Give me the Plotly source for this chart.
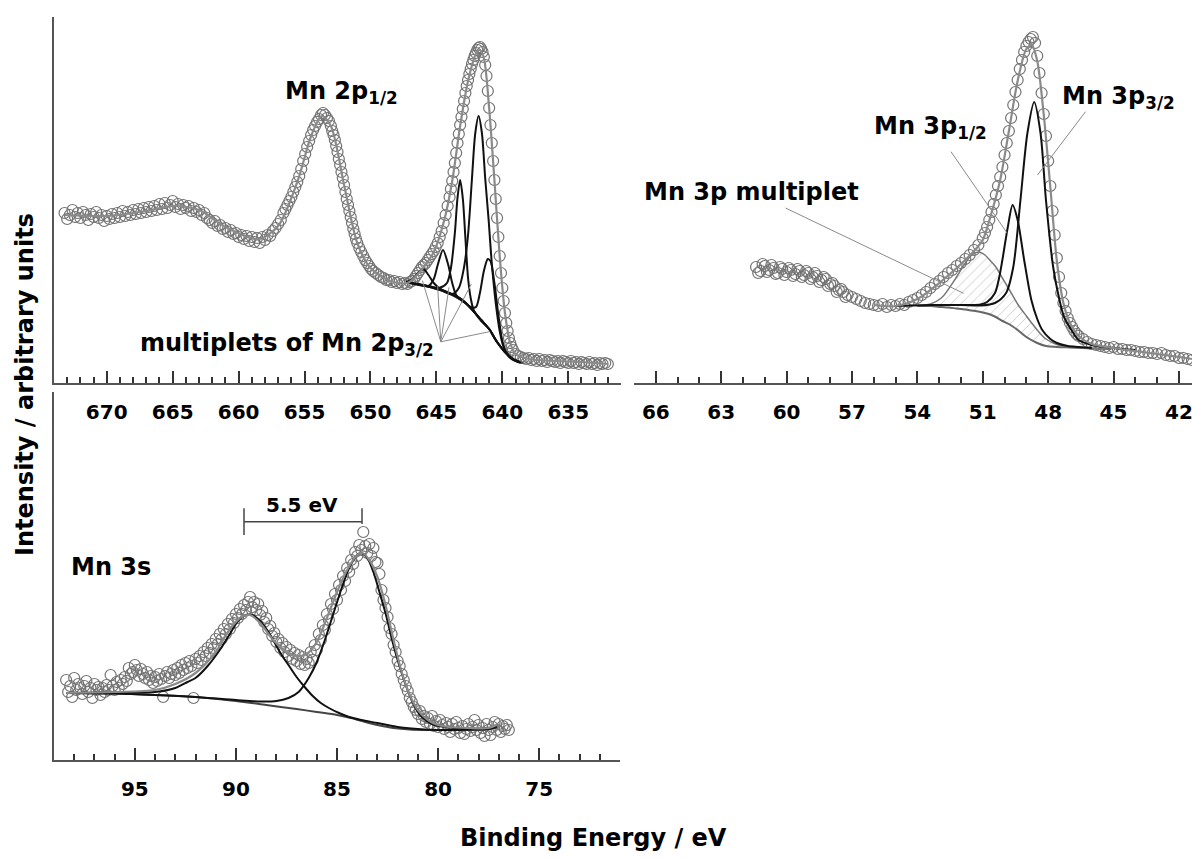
import plotly.graph_objects as go

W, H = 1192, 859
FONT = "DejaVu Sans, Liberation Sans, Arial, sans-serif"

# ---------------- Mn 2p (top-left): (binding energy, intensity) ----------------
mn2p_data = [
    (673.2, 170), (673.0, 164), (672.8, 168), (672.6, 173), (672.4, 166), (672.2, 170), (672.0, 165), (671.8, 171),
    (671.6, 168), (671.4, 163), (671.2, 169), (671.0, 166), (670.8, 171), (670.6, 165), (670.4, 168), (670.2, 162),
    (670.0, 167), (669.8, 164), (669.6, 169), (669.4, 165), (669.2, 170), (669.0, 166), (668.8, 172), (668.6, 167),
    (668.4, 171), (668.2, 168), (668.0, 173), (667.8, 169), (667.6, 174), (667.4, 170), (667.2, 175), (667.0, 171),
    (666.8, 176), (666.6, 172), (666.4, 177), (666.2, 173), (666.0, 179), (665.8, 174), (665.6, 180), (665.4, 175),
    (665.2, 178), (665.0, 182), (664.8, 176), (664.6, 179), (664.4, 174), (664.2, 178), (664.0, 175), (663.8, 177),
    (663.6, 172), (663.4, 175), (663.2, 171), (663.0, 173), (662.8, 168), (662.6, 170), (662.4, 165), (662.2, 163),
    (662.0, 160), (661.8, 162), (661.6, 157), (661.4, 158), (661.2, 154), (661.0, 155), (660.8, 151), (660.6, 153),
    (660.4, 149), (660.2, 150), (660.0, 146), (659.8, 148), (659.6, 144), (659.4, 147), (659.2, 142), (659.0, 146),
    (658.8, 141), (658.6, 145), (658.4, 140), (658.2, 146), (658.0, 143), (657.8, 148), (657.6, 147), (657.4, 152),
    (657.2, 155), (657.0, 159), (656.8, 163), (656.6, 170), (656.45, 174), (656.3, 178), (656.15, 182), (656.0, 186),
    (655.85, 191), (655.7, 196), (655.55, 201), (655.4, 207), (655.25, 214), (655.1, 222), (654.95, 229),
    (654.8, 236), (654.65, 242), (654.5, 248), (654.35, 253), (654.2, 257), (654.05, 261), (653.9, 264),
    (653.75, 268), (653.6, 270), (653.45, 268), (653.3, 265), (653.15, 262), (653.0, 257), (652.9, 252),
    (652.8, 248), (652.7, 243), (652.6, 237), (652.5, 231), (652.4, 224), (652.3, 218), (652.2, 211), (652.1, 205),
    (652.0, 198), (651.9, 191), (651.8, 184), (651.7, 178), (651.6, 172), (651.5, 166), (651.4, 160), (651.3, 154),
    (651.2, 149), (651.1, 144), (651.0, 140), (650.85, 135), (650.7, 131), (650.55, 127), (650.4, 123),
    (650.25, 120), (650.1, 117), (649.95, 114), (649.8, 112), (649.6, 110), (649.4, 108), (649.2, 106), (649.0, 105),
    (648.8, 103), (648.6, 103), (648.4, 101), (648.2, 102), (648.0, 100), (647.8, 101), (647.6, 99), (647.4, 100),
    (647.2, 99), (647.0, 101), (646.85, 102), (646.7, 104), (646.55, 107), (646.4, 110), (646.25, 113), (646.1, 116),
    (645.95, 118), (645.8, 120), (645.65, 123), (645.5, 126), (645.35, 129), (645.2, 132), (645.05, 136),
    (644.9, 140), (644.75, 146), (644.6, 152), (644.45, 160), (644.3, 168), (644.15, 177), (644.0, 186),
    (643.9, 194), (643.8, 202), (643.7, 211), (643.6, 220), (643.5, 230), (643.4, 240), (643.3, 249), (643.2, 258),
    (643.1, 266), (643.0, 274), (642.9, 282), (642.8, 290), (642.7, 297), (642.6, 303), (642.5, 309), (642.4, 314),
    (642.3, 319), (642.2, 323), (642.1, 327), (642.0, 330), (641.9, 333), (641.8, 335), (641.7, 336), (641.6, 334),
    (641.5, 331), (641.4, 326), (641.3, 318), (641.2, 307), (641.1, 292), (641.0, 275), (640.9, 258), (640.8, 240),
    (640.7, 222), (640.6, 203), (640.5, 184), (640.4, 165), (640.3, 146), (640.2, 127), (640.1, 110), (640.0, 95),
    (639.9, 82), (639.8, 70), (639.7, 60), (639.6, 52), (639.5, 45), (639.4, 40), (639.3, 36), (639.2, 33),
    (639.0, 29), (638.8, 27), (638.6, 26), (638.4, 25), (638.2, 24), (638.0, 25), (637.8, 23), (637.6, 24),
    (637.4, 22), (637.2, 24), (637.0, 22), (636.8, 23), (636.6, 21), (636.4, 23), (636.2, 22), (636.0, 21),
    (635.8, 22), (635.6, 20), (635.4, 22), (635.2, 21), (635.0, 20), (634.8, 22), (634.6, 20), (634.4, 21),
    (634.2, 19), (634.0, 21), (633.8, 20), (633.6, 19), (633.4, 21), (633.2, 19), (633.0, 20), (632.8, 18),
    (632.6, 20), (632.4, 19), (632.2, 20), (632.0, 19)]

mn2p_env_ev = [673.2, 670.0, 667.0, 665.0, 663.0, 661.0, 658.5, 657.0, 655.5, 654.5, 653.7, 653.0, 652.0,
               651.0, 650.0, 648.5, 647.2, 646.2, 645.2, 644.4, 643.8, 643.2, 642.6, 642.0, 641.7, 641.4,
               641.0, 640.6, 640.2, 639.8, 639.4, 639.0, 638.0, 636.0, 634.0, 632.0]
mn2p_env = [168, 167, 172, 177, 173, 156, 144, 157, 203, 247, 267, 257, 198,
            140, 115, 102, 100, 112, 131, 163, 202, 257, 302, 329, 333, 325,
            275, 203, 127, 70, 40, 29, 24, 22, 21, 19]

mn2p_bg_ev = [647.3, 646.5, 645.5, 644.5, 643.5, 642.8, 642.2, 641.6, 641.0, 640.4, 639.8, 639.2, 638.7, 638.4]
mn2p_bg = [101, 99, 96, 92, 86, 80, 72, 63, 54, 41, 31, 24, 21, 20]

mn2p_p1_ev = [646.5, 645.5, 644.5, 643.8, 643.3, 642.9, 642.6, 642.3, 642.05, 641.8, 641.55, 641.3, 641.05,
              640.8, 640.5, 640.2, 639.9, 639.5, 639.0, 638.6]
mn2p_p1 = [99, 96, 92, 89, 95, 116, 148, 205, 250, 267, 250, 205, 165,
           120, 80, 52, 36, 27, 22, 20]

mn2p_p2_ev = [646.5, 645.5, 644.8, 644.2, 643.9, 643.6, 643.4, 643.2, 643.0, 642.8, 642.6, 642.4, 642.2,
              642.0, 641.6, 641.0, 640.4, 639.8, 639.2, 638.7]
mn2p_p2 = [99, 96.5, 95, 100, 115, 150, 185, 203, 185, 145, 105, 85, 74,
           69, 62, 54, 41, 31, 24, 21]

mn2p_p3_ev = [647.0, 646.3, 645.6, 645.2, 644.9, 644.5, 644.1, 643.8, 643.5, 643.2, 642.8, 642.2, 641.6,
              641.0, 640.4, 639.8, 639.2, 638.7]
mn2p_p3 = [100, 98, 97, 104, 118, 133, 118, 100, 88, 84, 80, 72, 63,
           54, 41, 31, 24, 21]

mn2p_p4_ev = [647.3, 646.8, 646.4, 646.0, 645.6, 645.2, 644.8, 644.3, 643.6, 642.8, 642.2, 641.6, 641.0,
              640.4, 639.8, 639.2, 638.7]
mn2p_p4 = [101, 104, 110, 114, 108, 100, 95, 91, 87, 80, 72, 63, 54,
           41, 31, 24, 21]

mn2p_p5_ev = [647.3, 646.0, 645.0, 644.0, 643.0, 642.4, 642.0, 641.7, 641.4, 641.1, 640.9, 640.6, 640.3,
              640.0, 639.7, 639.3, 638.8]
mn2p_p5 = [101, 98, 95, 90, 83, 76, 76, 90, 112, 124, 122, 100, 68,
           42, 30, 24, 21]

# ---------------- Mn 3p (top-right) ----------------
mn3p_data = [
    (61.4, 116), (61.3, 110), (61.2, 112), (61.1, 119), (61.0, 117), (60.9, 111), (60.8, 113), (60.7, 118),
    (60.6, 115), (60.5, 109), (60.4, 110), (60.3, 116), (60.2, 114), (60.1, 108), (60.0, 111), (59.9, 115),
    (59.8, 113), (59.7, 107), (59.6, 109), (59.5, 114), (59.4, 112), (59.3, 106), (59.2, 108), (59.1, 112),
    (59.0, 110), (58.9, 104), (58.8, 106), (58.7, 110), (58.6, 107), (58.5, 101), (58.4, 103), (58.3, 106),
    (58.2, 104), (58.1, 97), (58.0, 99), (57.9, 100), (57.8, 97), (57.7, 91), (57.6, 93), (57.5, 94),
    (57.4, 91), (57.3, 86), (57.2, 88), (57.0, 86), (56.8, 84), (56.6, 82), (56.4, 80), (56.2, 79),
    (56.0, 78), (55.8, 77), (55.6, 79), (55.4, 76), (55.2, 78), (55.0, 77), (54.8, 79), (54.6, 78),
    (54.4, 81), (54.2, 83), (54.0, 85), (53.8, 88), (53.6, 91), (53.4, 95), (53.2, 99), (53.0, 102),
    (52.8, 106), (52.6, 110), (52.4, 113), (52.2, 117), (52.0, 120), (51.8, 124), (51.6, 128), (51.4, 133),
    (51.2, 138), (51.0, 145), (50.9, 150), (50.8, 156), (50.7, 163), (50.6, 171), (50.5, 179), (50.4, 188),
    (50.3, 197), (50.2, 206), (50.1, 216), (50.0, 228), (49.9, 240), (49.8, 252), (49.7, 265), (49.6, 278),
    (49.5, 291), (49.4, 303), (49.3, 314), (49.2, 323), (49.1, 331), (49.0, 337), (48.9, 341), (48.8, 344),
    (48.7, 346), (48.6, 340), (48.5, 327), (48.4, 310), (48.3, 290), (48.2, 269), (48.1, 247), (48.0, 222),
    (47.9, 197), (47.8, 172), (47.7, 148), (47.6, 125), (47.5, 106), (47.4, 90), (47.3, 80), (47.2, 72),
    (47.1, 65), (47.0, 60), (46.9, 56), (46.8, 52), (46.7, 49), (46.6, 47), (46.4, 44), (46.2, 41),
    (46.0, 39), (45.8, 38), (45.6, 37), (45.4, 36), (45.2, 35), (45.0, 36), (44.8, 34), (44.6, 34),
    (44.4, 33), (44.2, 33), (44.0, 32), (43.8, 31), (43.6, 31), (43.4, 30), (43.2, 30), (43.0, 29),
    (42.8, 30), (42.6, 28), (42.4, 27), (42.2, 27), (42.0, 25), (41.8, 25), (41.6, 24), (41.4, 23)]

mn3p_env_ev = [56.0, 55.0, 54.0, 53.0, 52.0, 51.4, 51.0, 50.6, 50.2, 49.8, 49.4, 49.0, 48.75, 48.5, 48.2,
               47.9, 47.6, 47.3, 47.0, 46.6, 46.0, 45.0, 44.0, 43.0, 42.0, 41.4]
mn3p_env = [78, 77, 84, 100, 119, 132, 143, 170, 203, 252, 302, 334, 338, 322, 268,
            196, 122, 80, 60, 47, 39, 35, 32, 29, 26, 24]

mn3p_mp_ev = [54.0, 53.4, 52.9, 52.6, 52.2, 51.8, 51.5, 51.2, 50.9, 50.6, 50.4, 50.1, 49.8, 49.4, 49.0,
              48.5, 48.1, 47.6, 47.0, 46.4, 45.8, 45.1]
mn3p_bg = [77, 77, 76, 75.5, 74.5, 73.5, 72.5, 71.5, 70, 68, 66, 62, 59, 53, 46,
           40, 37, 36, 35.5, 35, 34.5, 34]
mn3p_mult = [77.5, 79, 85, 93, 106, 120, 128, 131, 128, 121, 116, 105, 94, 79, 67,
             53, 44, 38.5, 36, 35.2, 34.6, 34]

mn3p_p12_ev = [55.0, 53.4, 52.4, 51.6, 51.1, 50.8, 50.44, 50.25, 50.1, 49.85, 49.63, 49.4, 49.1, 48.77,
               48.5, 48.27, 47.9, 47.6, 47.1, 46.6, 46.0]
mn3p_p12 = [77, 78, 78, 78, 78.5, 81, 90, 105, 123, 156, 178, 163, 123, 83,
            64, 53, 44, 40, 37, 36, 35]

mn3p_p32_ev = [53.4, 52.0, 51.1, 50.44, 49.93, 49.6, 49.27, 48.95, 48.64, 48.35, 48.1, 47.77, 47.5,
               47.27, 46.9, 46.6, 46.0, 45.4, 44.6, 44.0]
mn3p_p32 = [78, 78, 77.5, 80, 90, 116, 183, 250, 281, 250, 183, 116, 85,
            66, 52, 43, 38, 36, 34, 33]

# ---------------- Mn 3s (bottom-left) ----------------
mn3s_data = [
    (98.4, 80), (98.3, 68), (98.2, 74), (98.1, 63), (98.0, 82), (97.9, 70), (97.8, 76), (97.7, 72), (97.6, 66),
    (97.5, 74), (97.4, 79), (97.3, 68), (97.2, 72), (97.1, 62), (97.0, 76), (96.9, 70), (96.8, 73), (96.7, 65),
    (96.6, 72), (96.5, 68), (96.4, 75), (96.3, 70), (96.2, 85), (96.1, 74), (96.0, 70), (95.9, 78), (95.8, 72),
    (95.7, 80), (95.6, 76), (95.5, 83), (95.4, 79), (95.3, 92), (95.2, 86), (95.1, 88), (95.0, 95), (94.9, 90),
    (94.8, 84), (94.7, 91), (94.6, 86), (94.5, 82), (94.4, 88), (94.3, 80), (94.2, 84), (94.1, 77), (94.0, 83),
    (93.9, 79), (93.8, 86), (93.7, 81), (93.6, 63), (93.5, 84), (93.4, 88), (93.3, 82), (93.2, 86), (93.1, 90),
    (93.0, 85), (92.9, 92), (92.8, 87), (92.7, 95), (92.6, 90), (92.5, 97), (92.4, 92), (92.3, 99), (92.2, 94),
    (92.1, 62), (92.0, 101), (91.9, 97), (91.8, 104), (91.7, 100), (91.6, 108), (91.5, 104), (91.4, 112),
    (91.3, 107), (91.2, 116), (91.1, 112), (91.0, 121), (90.9, 116), (90.8, 126), (90.7, 121), (90.6, 131),
    (90.5, 126), (90.4, 136), (90.3, 131), (90.2, 141), (90.1, 137), (90.0, 146), (89.9, 142), (89.8, 151),
    (89.7, 146), (89.6, 155), (89.5, 150), (89.4, 158), (89.3, 163), (89.2, 153), (89.1, 158), (89.0, 150),
    (88.9, 156), (88.8, 145), (88.7, 149), (88.6, 138), (88.5, 142), (88.4, 131), (88.3, 134), (88.2, 124),
    (88.1, 127), (88.0, 118), (87.9, 121), (87.8, 112), (87.7, 117), (87.6, 108), (87.5, 113), (87.4, 104),
    (87.3, 110), (87.2, 101), (87.1, 107), (87.0, 99), (86.9, 105), (86.8, 96), (86.7, 103), (86.6, 95),
    (86.5, 101), (86.4, 97), (86.3, 108), (86.2, 100), (86.1, 115), (86.0, 110), (85.9, 126), (85.8, 120),
    (85.7, 135), (85.6, 130), (85.5, 146), (85.4, 140), (85.3, 156), (85.2, 151), (85.1, 166), (85.0, 160),
    (84.9, 175), (84.8, 170), (84.7, 184), (84.6, 179), (84.5, 192), (84.4, 188), (84.3, 200), (84.2, 196),
    (84.1, 208), (84.0, 204), (83.9, 215), (83.8, 210), (83.7, 228), (83.6, 214), (83.5, 207), (83.4, 216),
    (83.3, 204), (83.2, 212), (83.1, 198), (83.0, 197), (82.9, 186), (82.8, 170), (82.7, 160), (82.6, 152),
    (82.5, 143), (82.4, 132), (82.3, 126), (82.2, 115), (82.1, 108), (82.0, 99), (81.9, 94), (81.8, 86),
    (81.7, 80), (81.6, 74), (81.5, 69), (81.4, 62), (81.3, 58), (81.2, 53), (81.1, 50), (81.0, 46), (80.9, 49),
    (80.8, 41), (80.7, 44), (80.6, 38), (80.5, 42), (80.4, 36), (80.3, 44), (80.2, 34), (80.1, 39), (80.0, 33),
    (79.9, 40), (79.8, 35), (79.7, 31), (79.6, 37), (79.5, 33), (79.4, 28), (79.3, 36), (79.2, 31), (79.1, 38),
    (79.0, 32), (78.9, 27), (78.8, 34), (78.7, 26), (78.6, 31), (78.5, 36), (78.4, 29), (78.3, 33), (78.2, 40),
    (78.1, 30), (78.0, 35), (77.9, 27), (77.8, 32), (77.7, 24), (77.6, 36), (77.5, 30), (77.4, 25), (77.3, 33),
    (77.2, 38), (77.1, 30), (77.0, 36), (76.9, 28), (76.8, 34), (76.7, 31), (76.6, 35), (76.5, 30)]

mn3s_env_ev = [98.4, 96.0, 94.0, 93.0, 92.0, 91.0, 90.4, 89.8, 89.3, 88.8, 88.2, 87.5, 87.0, 86.5, 86.0,
               85.5, 85.0, 84.5, 84.0, 83.75, 83.4, 83.0, 82.6, 82.2, 81.8, 81.4, 81.0, 80.5, 80.0, 79.5,
               78.5, 77.5, 77.1]
mn3s_env = [67, 68, 70, 76, 87, 108, 128, 142, 145, 137, 121, 108, 104, 106, 118,
            142, 168, 190, 205, 207, 200, 183, 155, 120, 88, 65, 50, 40, 35, 33,
            32, 32, 35]

mn3s_a_ev = [98.4, 96.0, 94.0, 93.0, 92.4, 92.0, 91.4, 90.8, 90.3, 89.9, 89.5, 89.2, 88.8, 88.3, 87.8,
             87.3, 87.0, 86.6, 86.2, 85.8, 85.4, 84.9, 84.4, 83.8, 83.0, 82.0, 81.0, 80.0, 79.0, 78.0, 77.1]
mn3s_a = [67, 67.5, 68, 72, 78, 82, 94, 110, 126, 139, 145, 145, 139, 125, 107,
          92, 83, 73, 64, 57, 52, 47, 43, 40, 37, 33, 31, 30, 30, 31, 33]

mn3s_b_ev = [98.4, 96.0, 94.0, 92.0, 90.0, 88.8, 88.0, 87.4, 86.9, 86.4, 86.0, 85.6, 85.2, 84.8, 84.4,
             84.0, 83.8, 83.5, 83.2, 82.9, 82.6, 82.3, 82.0, 81.6, 81.2, 80.8, 80.3, 79.6, 78.6, 77.5, 77.1]
mn3s_b = [67, 66.5, 65, 63, 60, 58.5, 59, 62, 68, 82, 98, 120, 145, 170, 192,
          205, 207, 202, 188, 168, 147, 122, 100, 75, 55, 43, 36, 33, 31, 31, 33]

mn3s_bg_ev = [98.4, 96.0, 94.0, 92.0, 90.0, 88.5, 87.0, 86.0, 85.0, 84.3, 83.6, 83.0, 82.2, 81.4, 80.5,
              79.5, 78.5, 77.5, 77.1]
mn3s_bg = [67, 66.5, 65, 63, 59, 55, 51, 48, 45, 42, 38, 35, 32, 30.5, 30, 30, 30, 31, 33]

# ---------------- tick labels ----------------
tl_2p_ticks = [670, 665, 660, 655, 650, 645, 640, 635]
tl_3p_ticks = [66, 63, 60, 57, 54, 51, 48, 45, 42]
tl_3s_ticks = [95, 90, 85, 80, 75]

CIRC = "#737373"
ENV = "#8a8a8a"
BLK = "#111111"
BGC = "#444444"


def fx(p):
    return p / W


def fy(p):
    return 1 - p / H


fig = go.Figure()


def circles(pairs, xa, ya):
    xs = [p[0] for p in pairs]
    ys = [p[1] for p in pairs]
    fig.add_trace(go.Scatter(x=xs, y=ys, mode="markers", xaxis=xa, yaxis=ya,
                             marker=dict(symbol="circle-open", size=11, color=CIRC,
                                         line=dict(width=1.2, color=CIRC)),
                             showlegend=False, hoverinfo="skip"))


def curve(x, y, xa, ya, color, width):
    fig.add_trace(go.Scatter(x=x, y=y, mode="lines", xaxis=xa, yaxis=ya,
                             line=dict(color=color, width=width, shape="spline", smoothing=0.8),
                             showlegend=False, hoverinfo="skip"))


# Mn 2p
circles(mn2p_data, "x", "y")
curve(mn2p_bg_ev, mn2p_bg, "x", "y", BGC, 2)
for xs, ys in [(mn2p_p4_ev, mn2p_p4), (mn2p_p3_ev, mn2p_p3), (mn2p_p2_ev, mn2p_p2),
               (mn2p_p5_ev, mn2p_p5), (mn2p_p1_ev, mn2p_p1)]:
    curve(xs, ys, "x", "y", BLK, 2)
curve(mn2p_env_ev, mn2p_env, "x", "y", ENV, 2.2)

# Mn 3p
circles(mn3p_data, "x3", "y3")
fig.add_trace(go.Scatter(x=mn3p_mp_ev, y=mn3p_bg, mode="lines", xaxis="x3", yaxis="y3",
                         line=dict(color="#666666", width=2, shape="spline"), showlegend=False, hoverinfo="skip"))
fig.add_trace(go.Scatter(x=mn3p_mp_ev, y=mn3p_mult, mode="lines", xaxis="x3", yaxis="y3",
                         line=dict(color="#777777", width=1.5, shape="spline"), fill="tonexty",
                         fillcolor="rgba(0,0,0,0)",
                         fillpattern=dict(shape="/", fgcolor="#888888", bgcolor="rgba(255,255,255,0)",
                                          size=7, solidity=0.12),
                         showlegend=False, hoverinfo="skip"))
curve(mn3p_p12_ev, mn3p_p12, "x3", "y3", BLK, 2)
curve(mn3p_p32_ev, mn3p_p32, "x3", "y3", BLK, 2)
curve(mn3p_env_ev, mn3p_env, "x3", "y3", ENV, 2.2)

# Mn 3s
circles(mn3s_data, "x2", "y2")
curve(mn3s_bg_ev, mn3s_bg, "x2", "y2", BGC, 2)
curve(mn3s_a_ev, mn3s_a, "x2", "y2", BLK, 2)
curve(mn3s_b_ev, mn3s_b, "x2", "y2", BLK, 2)
curve(mn3s_env_ev, mn3s_env, "x2", "y2", ENV, 2.2)

tickfont = dict(family=FONT, size=20, color="black", weight="bold")


def xaxis_cfg(dom, rng, ticks, anchor):
    return dict(domain=dom, range=rng, anchor=anchor, showline=True, linecolor="#555555", linewidth=2,
                ticks="inside", ticklen=12, tickwidth=1.5, tickcolor="#333333",
                tickmode="array", tickvals=ticks, ticktext=[str(t) for t in ticks],
                minor=dict(ticks="inside", ticklen=6, tickwidth=1.5, tickcolor="#333333", dtick=1, tick0=0),
                showgrid=False, zeroline=False, tickfont=tickfont, ticklabelstandoff=10,
                ticklabeloverflow="allow", fixedrange=True)


def yaxis_cfg(dom, rng, anchor, line=True):
    return dict(domain=dom, range=rng, anchor=anchor, showline=line, linecolor="#555555", linewidth=2,
                showticklabels=False, ticks="", showgrid=False, zeroline=False, fixedrange=True)


fig.update_layout(
    width=W, height=H, margin=dict(l=0, r=0, t=0, b=0),
    paper_bgcolor="white", plot_bgcolor="rgba(0,0,0,0)", showlegend=False,
    xaxis=xaxis_cfg([fx(54), fx(621)], [674, 631], tl_2p_ticks, "y"),
    yaxis=yaxis_cfg([fy(383), fy(17)], [0, 366], "x"),
    xaxis2=xaxis_cfg([fx(54), fx(620)], [99, 71], tl_3s_ticks, "y2"),
    yaxis2=yaxis_cfg([fy(760), fy(392)], [0, 368], "x2"),
    xaxis3=xaxis_cfg([fx(634), 1.0], [67.0, 41.4], tl_3p_ticks, "y3"),
    yaxis3=yaxis_cfg([fy(383), fy(17)], [0, 366], "x3", line=False),
)

ann = []


def text(t, x, y, xanchor="left", size=24, angle=0):
    ann.append(dict(text=t, x=fx(x), y=fy(y), xref="paper", yref="paper", xanchor=xanchor, yanchor="middle",
                    showarrow=False, textangle=angle,
                    font=dict(family=FONT, size=size, color="black", weight="bold")))


text("Mn 2p<sub>1/2</sub>", 283, 92)
text("multiplets of Mn 2p<sub>3/2</sub>", 436, 344, xanchor="right")
text("Mn 3p multiplet", 642, 192)
text("Mn 3p<sub>1/2</sub>", 872, 127)
text("Mn 3p<sub>3/2</sub>", 1060, 97)
text("Mn 3s", 69, 567, size=24)
text("5.5 eV", 302, 505, xanchor="center", size=20)
text("Binding Energy / eV", 593, 838, xanchor="center", size=24)
text("Intensity / arbitrary units", 25, 385, xanchor="center", size=24, angle=-90)
fig.update_layout(annotations=ann)

shapes = []


def seg(x0, y0, x1, y1, color="#8a8a8a", width=1):
    shapes.append(dict(type="line", xref="paper", yref="paper", x0=fx(x0), y0=fy(y0), x1=fx(x1), y1=fy(y1),
                       line=dict(color=color, width=width)))


apex = (440.8, 341.8)
for ex, ey in [(422.4, 280.6), (437.6, 285.7), (449, 287.4), (471.4, 284), (489.8, 331.6)]:
    seg(apex[0], apex[1], ex, ey)
seg(785.5, 208, 963.6, 293.3)
seg(951, 151.7, 1007.3, 233.3)
seg(1085.5, 111.7, 1037.5, 175)
seg(244, 521.7, 362, 521.7, color="#444444", width=1.5)
seg(244, 508.3, 244, 535, color="#444444", width=1.5)
seg(362, 508.3, 362, 524, color="#444444", width=1.5)
fig.update_layout(shapes=shapes)

fig.write_html("out.html")
